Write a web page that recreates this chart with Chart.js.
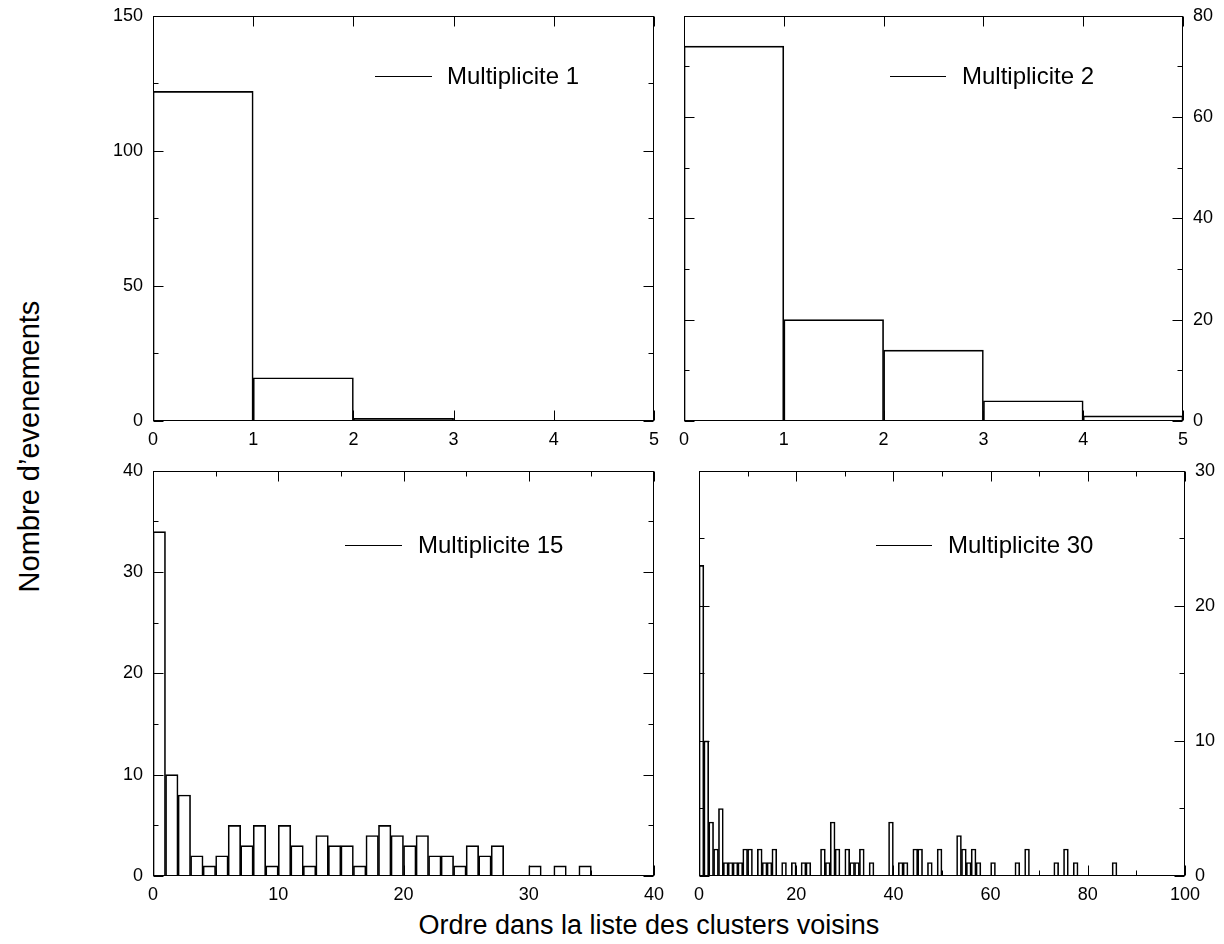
<!DOCTYPE html>
<html><head><meta charset="utf-8">
<script src="https://cdn.jsdelivr.net/npm/chart.js@4.4.0/dist/chart.umd.min.js"></script>
<style>
html,body{margin:0;padding:0;background:#fff;width:1224px;height:944px;overflow:hidden;position:relative;}
canvas{position:absolute;}
.title{position:absolute;font-family:"Liberation Sans",Arial,Helvetica,sans-serif;color:#000;white-space:nowrap;transform-origin:center center;}
</style></head><body>
<canvas id="c1" width="576" height="460"></canvas>
<canvas id="c2" width="554" height="460"></canvas>
<canvas id="c3" width="576" height="460"></canvas>
<canvas id="c4" width="539" height="460"></canvas>
<div class="title" id="xt" style="font-size:27px">Ordre dans la liste des clusters voisins</div>
<div class="title" id="yt" style="font-size:29px">Nombre d’evenements</div>
<script>
// ---------- data ----------
const seriesLabels = ['Multiplicite 1', 'Multiplicite 2', 'Multiplicite 15', 'Multiplicite 30'];
const mult1Counts = [122, 16, 1, 0, 0];
const mult2Counts = [74, 20, 14, 4, 1];
const mult15Counts = [34, 10, 8, 2, 1, 2, 5, 3, 5, 1, 5, 3, 1, 4, 3, 3, 1, 4, 5, 4,
                      3, 4, 2, 2, 1, 3, 2, 3, 0, 0, 1, 0, 1, 0, 1, 0, 0, 0, 0, 0];
const mult30Counts = [23, 10, 4, 2, 5, 1, 1, 1, 1, 2, 2, 0, 2, 1, 1, 2, 0, 1, 0, 1,
                      0, 1, 1, 0, 0, 2, 1, 4, 2, 0, 2, 1, 1, 2, 0, 1, 0, 0, 0, 4,
                      0, 1, 1, 0, 2, 2, 0, 1, 0, 2, 0, 0, 0, 3, 2, 1, 2, 1, 0, 0,
                      1, 0, 0, 0, 0, 1, 0, 2, 0, 0, 0, 0, 0, 1, 0, 2, 0, 1, 0, 0,
                      0, 0, 0, 0, 0, 1, 0, 0, 0, 0, 0, 0, 0, 0, 0, 0, 0, 0, 0, 0];
// tick labels and minor ticks
const xTicks1 = [0, 1, 2, 3, 4, 5];
const yTicks1 = [0, 50, 100, 150];
const yMinor1 = [25, 75, 125];
const xTicks2 = [0, 1, 2, 3, 4, 5];
const yTicks2 = [0, 20, 40, 60, 80];
const yMinor2 = [10, 30, 50, 70];
const xTicks3 = [0, 10, 20, 30, 40];
const xMinor3 = [5, 15, 25, 35];
const yTicks3 = [0, 10, 20, 30, 40];
const yMinor3 = [5, 15, 25, 35];
const xTicks4 = [0, 20, 40, 60, 80, 100];
const xMinor4 = [10, 30, 50, 70, 90];
const yTicks4 = [0, 10, 20, 30];
const yMinor4 = [5, 15, 25];

// ---------- drawing ----------
const FONT = '"Liberation Sans", Arial, Helvetica, sans-serif';

const frameTicks = {
  id: 'frameTicks',
  afterDatasetsDraw(chart, args, opts) {
    const {ctx, chartArea: a, scales: {x, y}} = chart;
    ctx.save();
    ctx.strokeStyle = '#000';
    ctx.lineWidth = 1;
    const L = Math.round(a.left) + 0.5, R = Math.round(a.right) - 0.5;
    const T = Math.round(a.top) + 0.5, B = Math.round(a.bottom) - 0.5;
    ctx.strokeRect(L, T, R - L, B - T);
    ctx.beginPath();
    const tx = (vals, len) => vals.forEach(v => {
      const p = Math.round(x.getPixelForValue(v)) + 0.5;
      ctx.moveTo(p, B); ctx.lineTo(p, B - len);
      ctx.moveTo(p, T); ctx.lineTo(p, T + len);
    });
    const ty = (vals, len) => vals.forEach(v => {
      const p = Math.round(y.getPixelForValue(v)) + 0.5;
      ctx.moveTo(L, p); ctx.lineTo(L + len, p);
      ctx.moveTo(R, p); ctx.lineTo(R - len, p);
    });
    tx(x.ticks.map(t => t.value), 10);
    tx(opts.xMinor || [], 5);
    ty(y.ticks.map(t => t.value), 10);
    ty(opts.yMinor || [], 5);
    ctx.stroke();
    ctx.restore();
  }
};

const insideLegend = {
  id: 'insideLegend',
  afterDraw(chart, args, opts) {
    const {ctx, chartArea: a} = chart;
    const label = chart.data.datasets[0].label;
    ctx.save();
    ctx.strokeStyle = '#000';
    ctx.lineWidth = 1;
    const yy = Math.round(a.top + opts.dy) + 0.5;
    ctx.beginPath();
    ctx.moveTo(a.left + opts.x1, yy);
    ctx.lineTo(a.left + opts.x2, yy);
    ctx.stroke();
    ctx.fillStyle = '#000';
    ctx.font = '24px ' + FONT;
    ctx.textBaseline = 'middle';
    ctx.textAlign = 'left';
    ctx.fillText(label, a.left + opts.tx, yy + 1);
    ctx.restore();
  }
};

function buildConfig(label, counts, xTicks, yTicks, xMinor, yMinor, yRight, legend) {
  const xMax = xTicks[xTicks.length - 1];
  const yMax = yTicks[yTicks.length - 1];
  const tickFont = {family: FONT, size: 18};
  return {
    type: 'bar',
    data: {
      datasets: [{
        label: label,
        data: counts.map((v, i) => ({x: i + 0.5, y: v})),
        backgroundColor: 'rgba(255,255,255,0)',
        borderColor: '#000',
        borderWidth: 1,
        barPercentage: 1,
        categoryPercentage: 1
      }]
    },
    options: {
      responsive: false,
      maintainAspectRatio: false,
      animation: false,
      devicePixelRatio: 1,
      layout: {padding: {left: yRight ? 15 : 0, right: yRight ? 0 : 15, top: 0, bottom: 0}},
      plugins: {
        legend: {display: false},
        tooltip: {enabled: false},
        frameTicks: {xMinor: xMinor, yMinor: yMinor},
        insideLegend: legend
      },
      scales: {
        x: {
          type: 'linear', min: 0, max: xMax, offset: false,
          grid: {display: false, offset: false},
          border: {display: false},
          afterBuildTicks: s => { s.ticks = xTicks.map(v => ({value: v})); },
          afterFit: s => { s.height = 34; },
          ticks: {font: tickFont, color: '#000', padding: 0, maxRotation: 0, autoSkip: false}
        },
        y: {
          type: 'linear', min: 0, max: yMax,
          position: yRight ? 'right' : 'left',
          grid: {display: false, drawTicks: false},
          border: {display: false},
          afterBuildTicks: s => { s.ticks = yTicks.map(v => ({value: v})); },
          afterFit: s => { s.width = yRight ? 40 : 60; },
          ticks: {font: tickFont, color: '#000', padding: 10}
        }
      }
    },
    plugins: [frameTicks, insideLegend]
  };
}

// create a chart and size/place its canvas so that the plot area lands on the target box
function makePanel(id, target, cfgArgs) {
  const cv = document.getElementById(id);
  let chart = new Chart(cv, buildConfig(...cfgArgs));
  let a = chart.chartArea;
  const newW = Math.round(cv.width + (target.right - target.left) - (a.right - a.left));
  const newH = Math.round(cv.height + (target.bottom - target.top) - (a.bottom - a.top));
  chart.destroy();
  cv.width = newW; cv.height = newH;
  cv.style.width = newW + 'px'; cv.style.height = newH + 'px';
  chart = new Chart(cv, buildConfig(...cfgArgs));
  a = chart.chartArea;
  cv.style.left = Math.round(target.left - a.left) + 'px';
  cv.style.top = Math.round(target.top - a.top) + 'px';
  return chart;
}

makePanel('c1', {left: 153, top: 16, right: 654, bottom: 421},
  [seriesLabels[0], mult1Counts, xTicks1, yTicks1, [], yMinor1, false, {x1: 222, x2: 279, dy: 60, tx: 294}]);
makePanel('c2', {left: 684, top: 16, right: 1183, bottom: 421},
  [seriesLabels[1], mult2Counts, xTicks2, yTicks2, [], yMinor2, true, {x1: 206, x2: 262, dy: 60, tx: 278}]);
makePanel('c3', {left: 153, top: 471, right: 654, bottom: 876},
  [seriesLabels[2], mult15Counts, xTicks3, yTicks3, xMinor3, yMinor3, false, {x1: 192, x2: 249, dy: 74, tx: 265}]);
makePanel('c4', {left: 699, top: 471, right: 1185, bottom: 876},
  [seriesLabels[3], mult30Counts, xTicks4, yTicks4, xMinor4, yMinor4, true, {x1: 177, x2: 233, dy: 74, tx: 249}]);

// axis titles
const xt = document.getElementById('xt');
xt.style.left = (649 - xt.offsetWidth / 2) + 'px';
xt.style.top = (925 - xt.offsetHeight / 2) + 'px';
const yt = document.getElementById('yt');
yt.style.left = (30 - yt.offsetWidth / 2) + 'px';
yt.style.top = (446 - yt.offsetHeight / 2) + 'px';
yt.style.transform = 'rotate(-90deg)';
</script>
</body></html>
